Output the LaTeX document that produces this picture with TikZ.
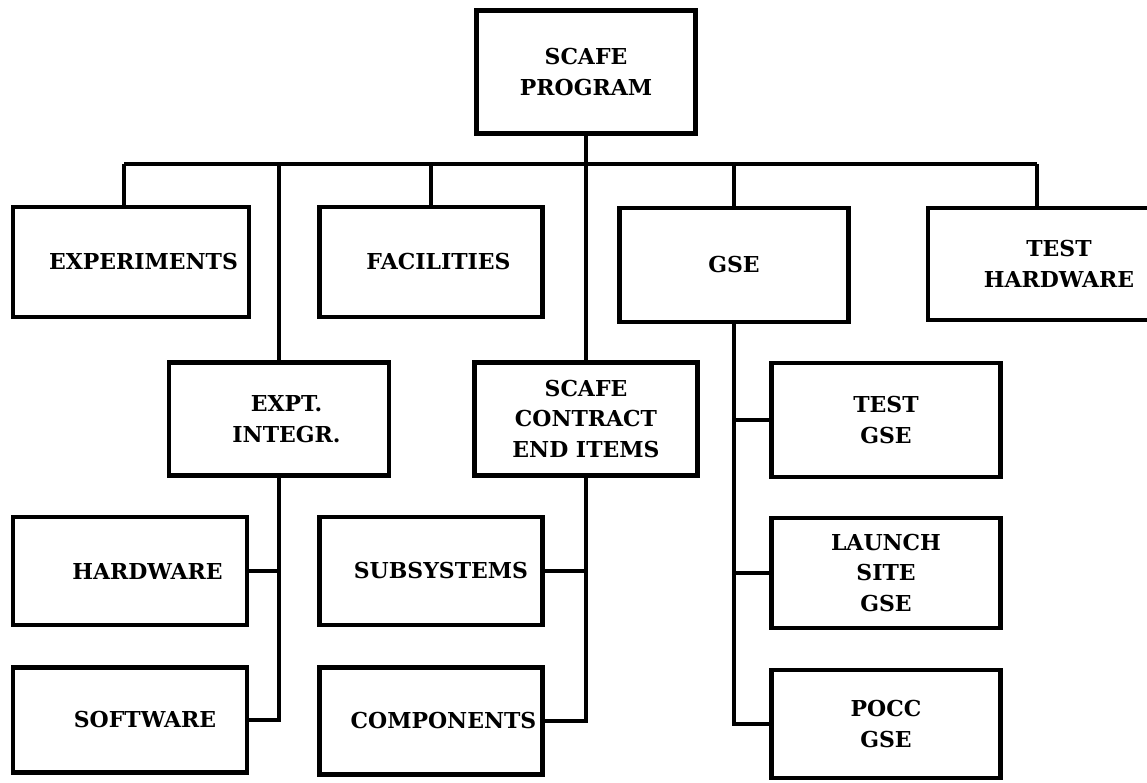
\documentclass[tikz,border=0pt]{standalone}
\usepackage{fontspec}
\setmainfont{DejaVu Serif}
\usepackage{tikz}
\usetikzlibrary{positioning,calc}
\tikzset{box/.style={draw,line width=2.8pt,minimum width=4.46cm,minimum height=2.2cm,align=center,font=\bfseries\fontsize{12.5}{17.5}\selectfont,inner sep=2pt},conn/.style={line width=2pt},stub/.style={line width=2.8pt}}

\begin{document}
\begin{tikzpicture}[x=0.02cm,y=-0.02cm]
\clip (0,0) rectangle (1147,783);
\node[box,minimum width=4.38cm,minimum height=2.46cm] (prog) at (586,72) {SCAFE\\PROGRAM};
\node[box,minimum width=4.72cm] (exper) at (131,262) {\hspace*{0.5cm}EXPERIMENTS};
\node[box] (facil) at (431,262) {\hspace*{0.3cm}FACILITIES};
\node[box,minimum width=4.58cm,minimum height=2.28cm] (gse) at (734,265) {GSE};
\node[box,minimum width=5.24cm,minimum height=2.24cm] (testhw) at (1059,264) {TEST\\HARDWARE};
\node[box,minimum width=4.4cm,minimum height=2.26cm] (exint) at (279,419) {\hspace*{0.3cm}EXPT.\\\hspace*{0.3cm}INTEGR.};
\node[box,minimum height=2.26cm] (scafe) at (586,419) {SCAFE\\CONTRACT\\END ITEMS};
\node[box,minimum width=4.58cm,minimum height=2.28cm] (testgse) at (886,420) {TEST\\GSE};
\node[box,minimum width=4.68cm,minimum height=2.16cm] (hw) at (130,571) {\hspace*{0.7cm}HARDWARE};
\node[box,minimum height=2.16cm] (subsys) at (431,571) {\hspace*{0.4cm}SUBSYSTEMS};
\node[box,minimum width=4.58cm] (launch) at (886,573) {LAUNCH\\SITE\\GSE};
\node[box,minimum width=4.68cm,minimum height=2.1cm] (sw) at (130,720) {\hspace*{0.6cm}SOFTWARE};
\node[box,minimum height=2.14cm] (comp) at (431,721) {\hspace*{0.5cm}COMPONENTS};
\node[box,minimum width=4.58cm,minimum height=2.16cm] (pocc) at (886,724) {POCC\\GSE};
% top level bus
\coordinate (busL) at (124,164);
\coordinate (busR) at (1037,164);
\draw[stub] (busL) -- (busR);
\draw[conn] (prog.south) -- (scafe.north);
\draw[conn] (busL) -- (busL |- exper.north);
\draw[conn] (busR) -- (busR |- testhw.north);
\draw[conn] (exint.north) -- (exint.north |- busL);
\draw[conn] (facil.north) -- (facil.north |- busL);
\draw[conn] (gse.north) -- (gse.north |- busL);
% second level
\draw[conn] (exint.south) |- (sw.east);
\draw[stub] (hw.east) -- (hw.east -| exint.south);
\draw[conn] (scafe.south) |- (comp.east);
\draw[stub] (subsys.east) -- (subsys.east -| scafe.south);
\draw[conn] (gse.south) |- (pocc.west);
\draw[stub] (testgse.west) -- (testgse.west -| gse.south);
\draw[stub] (launch.west) -- (launch.west -| gse.south);
\end{tikzpicture}
\end{document}
